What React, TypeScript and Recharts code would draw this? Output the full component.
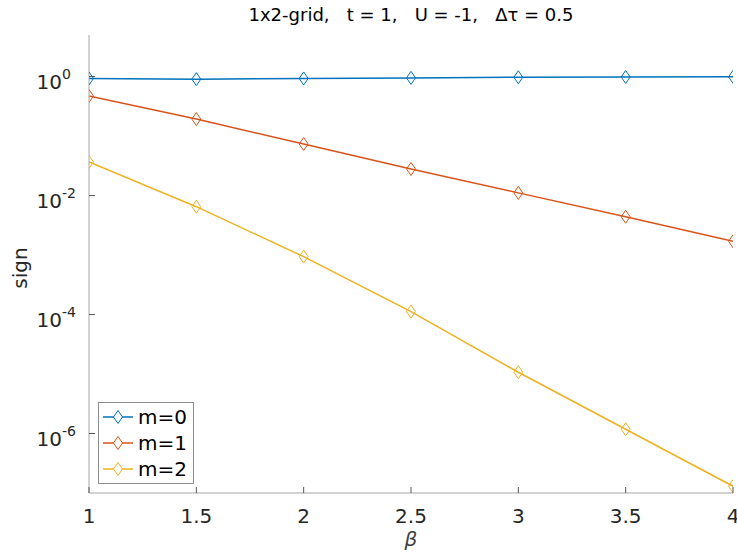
import { LineChart, Line, XAxis, YAxis, Label } from 'recharts';

const betas = [1, 1.5, 2, 2.5, 3, 3.5, 4];
const signM0 = [0.93, 0.905, 0.93, 0.95, 0.975, 0.985, 0.99];
const signM1 = [0.47, 0.193, 0.0736, 0.028, 0.0111, 0.0044, 0.0017];
const signM2 = [0.0367, 0.0065, 0.00094, 0.000112, 0.0000107, 0.00000118, 0.00000013];
const xTicks = [1, 1.5, 2, 2.5, 3, 3.5, 4];
const yTicks = [1e-6, 1e-4, 1e-2, 1];

const series = [
  { key: 'm0', name: 'm=0', color: '#0072BD' },
  { key: 'm1', name: 'm=1', color: '#D95319' },
  { key: 'm2', name: 'm=2', color: '#EDB120' },
];

const data = betas.map((b, i) => ({ beta: b, m0: signM0[i], m1: signM1[i], m2: signM2[i] }));

const FONT = '"DejaVu Sans", sans-serif';
const AXIS = '#a6a6a6';
const TEXT = '#262626';

// eslint-disable-next-line @typescript-eslint/no-explicit-any
const Diamond = (color: string) => (props: any) => {
  const { cx, cy } = props;
  if (cx == null || cy == null) return <g />;
  return (
    <path
      d={`M${cx},${cy - 6.5} L${cx + 4.5},${cy} L${cx},${cy + 6.5} L${cx - 4.5},${cy} Z`}
      fill="none" stroke={color} strokeWidth={1}
    />
  );
};

// eslint-disable-next-line @typescript-eslint/no-explicit-any
const YTick = (props: any) => {
  const { x, y, payload } = props;
  const exp = Math.round(Math.log10(payload.value));
  return (
    <g>
      <line x1={x + 8} x2={x + 14} y1={y} y2={y} stroke="#555" strokeWidth={1} />
      <text x={x - 19} y={y + 12} textAnchor="end" fontFamily={FONT} fontSize={20} fill={TEXT}>10</text>
      <text x={x - 19} y={y + 2} textAnchor="start" fontFamily={FONT} fontSize={14} fill={TEXT}>{exp}</text>
    </g>
  );
};

// eslint-disable-next-line @typescript-eslint/no-explicit-any
const XTick = (props: any) => {
  const { x, y, payload } = props;
  return (
    <g>
      <line x1={x} x2={x} y1={y - 8} y2={y - 14} stroke="#555" strokeWidth={1} />
      <text x={x} y={y + 22} textAnchor="middle" fontFamily={FONT} fontSize={20} fill={TEXT}>{payload.value}</text>
    </g>
  );
};

// eslint-disable-next-line @typescript-eslint/no-explicit-any
const YLabel = (props: any) => {
  const { viewBox } = props;
  const cx = viewBox.x + 27;
  const cy = viewBox.y + viewBox.height / 2 + 4;
  return (
    <text x={cx} y={cy} transform={`rotate(-90 ${cx} ${cy})`} textAnchor="middle" fontFamily={FONT} fontSize={20} fill={TEXT}>sign</text>
  );
};

const LegendBox = () => (
  <div style={{ position: 'absolute', left: 98, top: 402, border: '1px solid #8c8c8c', background: '#fff', padding: '1px 6px 1px 4px', fontFamily: FONT, fontSize: 20, color: '#000' }}>
    {series.map((s) => (
      <div key={s.key} style={{ display: 'flex', alignItems: 'center', height: 26 }}>
        <svg width={32} height={16} style={{ marginRight: 3 }}>
          <line x1={0} x2={30} y1={8} y2={8} stroke={s.color} strokeWidth={1.5} />
          <path d="M15,1.5 L19.5,8 L15,14.5 L10.5,8 Z" fill="#fff" stroke={s.color} strokeWidth={1} />
        </svg>
        <span>{s.name}</span>
      </div>
    ))}
  </div>
);

export default function App() {
  return (
    <div style={{ position: 'absolute', left: 0, top: 0, width: 737, height: 556, background: '#fff' }}>
      <div style={{ position: 'absolute', top: 4, left: 89, width: 644, textAlign: 'center', fontFamily: FONT, fontSize: 18, color: '#000', whiteSpace: 'pre' }}>
        {'1x2-grid,   t = 1,   U = -1,   \u0394\u03c4 = 0.5'}
      </div>
      <LineChart width={737} height={556} data={data} margin={{ top: 35, right: 4, left: 0, bottom: 0 }}>
        <XAxis
          dataKey="beta" type="number" domain={[1, 4]} ticks={xTicks} allowDataOverflow
          height={63} stroke={AXIS} tickLine={false} tickSize={0} tickMargin={8} tick={<XTick />}
        >
          <Label value={'\u03b2'} position="insideBottom" offset={10} fontFamily={FONT} fontSize={20} fontStyle="italic" fill="#404040" />
        </XAxis>
        <YAxis
          scale="log" type="number" domain={[1e-7, 5]} ticks={yTicks} allowDataOverflow
          width={89} stroke={AXIS} tickLine={false} tickSize={0} tickMargin={8} tick={<YTick />}
        >
          <Label content={<YLabel />} />
        </YAxis>
        {series.map((s) => (
          <Line
            key={s.key} dataKey={s.key} name={s.name} stroke={s.color} strokeWidth={1.5}
            dot={Diamond(s.color)} activeDot={false} isAnimationActive={false}
          />
        ))}
      </LineChart>
      <LegendBox />
    </div>
  );
}
